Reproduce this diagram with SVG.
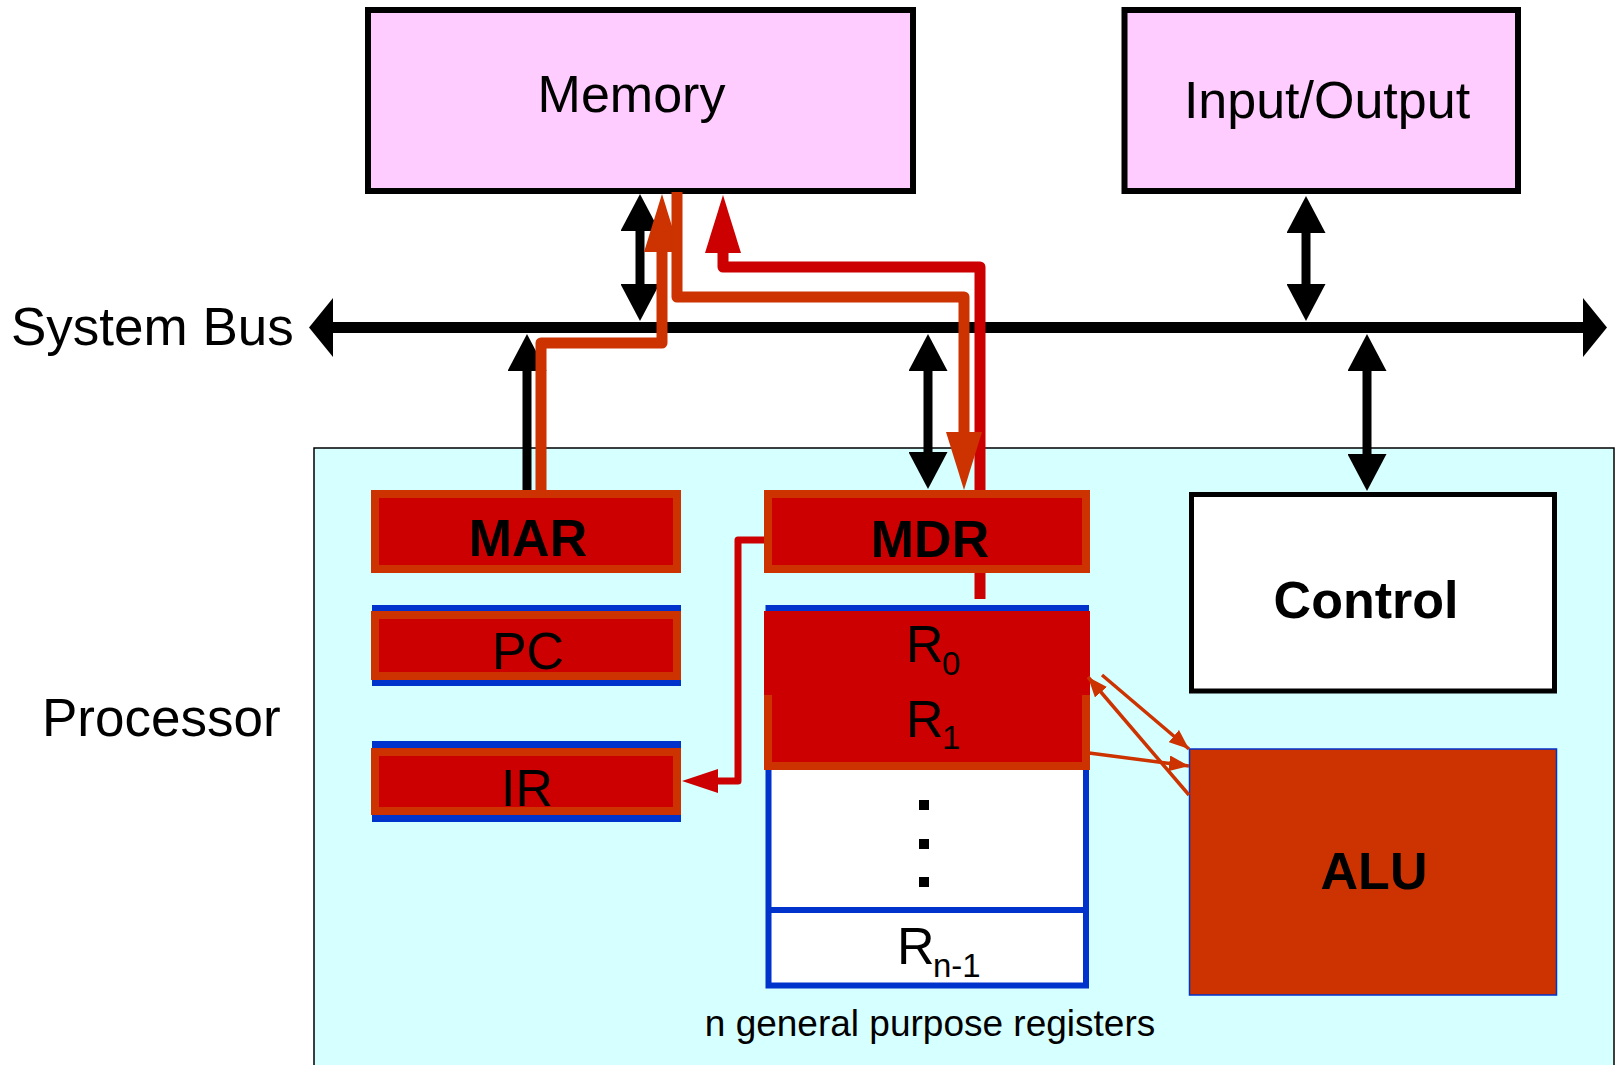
<svg xmlns="http://www.w3.org/2000/svg" width="1616" height="1065" viewBox="0 0 1616 1065">
<style>
text{font-family:"Liberation Sans",Arial,sans-serif;fill:#000}
.t{font-size:52px}
.l{font-size:53px}
.b{font-weight:bold}
.sub{font-size:33px}
.box{stroke:#000;stroke-width:6}
.reg{fill:#CC0000;stroke:#CC3300;stroke-width:8}
.blue{fill:#0033CC}
.blk{fill:none;stroke:#000;stroke-width:9}
.org{fill:none;stroke:#CC3300;stroke-width:11;stroke-linejoin:round}
.red{fill:none;stroke:#CC0000;stroke-width:11;stroke-linejoin:round}
.alu{fill:none;stroke:#CC3300;stroke-width:3.5}
</style>
<defs>
<marker id="bh" viewBox="0 0 37 39" refX="1" refY="19.5" markerWidth="37" markerHeight="39" markerUnits="userSpaceOnUse" orient="auto-start-reverse"><path d="M0,0 L37,19.5 L0,39 z" fill="#000"/></marker>
<marker id="bus" viewBox="0 0 24 59" refX="1" refY="29.5" markerWidth="24" markerHeight="59" markerUnits="userSpaceOnUse" orient="auto-start-reverse"><path d="M0,0 L24,29.5 L0,59 z" fill="#000"/></marker>
<marker id="oh" viewBox="0 0 58 36" refX="1" refY="18" markerWidth="58" markerHeight="36" markerUnits="userSpaceOnUse" orient="auto"><path d="M0,0 L58,18 L0,36 z" fill="#CC3300"/></marker>
<marker id="rh" viewBox="0 0 58 36" refX="1" refY="18" markerWidth="58" markerHeight="36" markerUnits="userSpaceOnUse" orient="auto"><path d="M0,0 L58,18 L0,36 z" fill="#CC0000"/></marker>
<marker id="rs" viewBox="0 0 36 24" refX="1" refY="12" markerWidth="36" markerHeight="24" markerUnits="userSpaceOnUse" orient="auto"><path d="M0,0 L36,12 L0,24 z" fill="#CC0000"/></marker>
<marker id="ah" viewBox="0 0 20 16" refX="20" refY="8" markerWidth="20" markerHeight="16" markerUnits="userSpaceOnUse" orient="auto"><path d="M0,0 L20,8 L0,16 z" fill="#CC3300"/></marker>
</defs>

<g id="processor">
<rect x="314" y="448" width="1300" height="640" fill="#D6FFFF" stroke="#000" stroke-width="1.5"/>
<text class="l" x="42" y="736">Processor</text>
</g>

<g id="memory">
<rect class="box" x="368" y="10" width="545" height="181" fill="#FFCCFF"/>
<text class="t" x="631.5" y="112" text-anchor="middle">Memory</text>
</g>

<g id="io">
<rect class="box" x="1124.5" y="10" width="393.5" height="181" fill="#FFCCFF"/>
<text class="t" x="1327" y="118" text-anchor="middle">Input/Output</text>
</g>

<g id="system-bus">
<text class="l" x="11" y="345">System Bus</text>
<line x1="332" y1="327.5" x2="1584" y2="327.5" stroke="#000" stroke-width="11" marker-start="url(#bus)" marker-end="url(#bus)"/>
</g>

<g id="control">
<rect x="1191.5" y="494.5" width="363" height="196.5" fill="#FFF" stroke="#000" stroke-width="5"/>
<text class="t b" x="1366" y="618" text-anchor="middle">Control</text>
</g>

<g id="alu">
<rect x="1189.5" y="749" width="367" height="246" fill="#CC3300" stroke="#0033CC" stroke-width="1.5"/>
<text class="t b" x="1374" y="889" text-anchor="middle">ALU</text>
</g>

<g id="regfile">
<rect x="768.5" y="608" width="317.5" height="377.5" fill="#FFF" stroke="#0033CC" stroke-width="6"/>
<line x1="768.5" y1="910" x2="1086" y2="910" stroke="#0033CC" stroke-width="6"/>
<rect x="919" y="800" width="10" height="10" fill="#000"/>
<rect x="919" y="839" width="10" height="10" fill="#000"/>
<rect x="919" y="877" width="10" height="10" fill="#000"/>
<text x="897" y="964" class="t">R</text><text x="933" y="977" class="sub">n-1</text>
<text class="t" x="930" y="1036" text-anchor="middle" style="font-size:37px">n general purpose registers</text>
</g>

<g id="connectors">
<line class="blk" x1="640" y1="230" x2="640" y2="285" marker-start="url(#bh)" marker-end="url(#bh)"/>
<line class="blk" x1="1306" y1="232" x2="1306" y2="285" marker-start="url(#bh)" marker-end="url(#bh)"/>
<line class="blk" x1="928" y1="370" x2="928" y2="453" marker-start="url(#bh)" marker-end="url(#bh)"/>
<line class="blk" x1="1367" y1="370" x2="1367" y2="455" marker-start="url(#bh)" marker-end="url(#bh)"/>
<line class="blk" x1="527" y1="490" x2="527" y2="370" marker-end="url(#bh)"/>
<path class="red" d="M980,599 V267 H723 V252" marker-end="url(#rh)"/>
<path class="org" d="M541,490 V343 H662 V251" marker-end="url(#oh)"/>
<path class="org" d="M677,192 V297 H964 V433" marker-end="url(#oh)"/>
</g>

<g id="pc">
<rect class="blue" x="372" y="605" width="309" height="81"/>
<rect class="reg" x="375" y="615" width="302" height="61"/>
<text class="t" x="528" y="669" text-anchor="middle">PC</text>
</g>

<g id="ir">
<rect class="blue" x="372" y="741" width="309" height="81"/>
<rect class="reg" x="375" y="752" width="302" height="59"/>
<text class="t" x="527" y="806" text-anchor="middle">IR</text>
</g>

<g id="mar">
<rect class="reg" x="375" y="494" width="302" height="75"/>
<text class="t b" x="528" y="556" text-anchor="middle">MAR</text>
</g>

<g id="mdr">
<rect class="reg" x="768" y="494" width="318" height="75"/>
<text class="t b" x="930" y="557" text-anchor="middle">MDR</text>
</g>

<g id="r1">
<rect x="764" y="694" width="326" height="76" fill="#CC0000"/>
<path d="M768,694 V766 H1086 V694" fill="none" stroke="#CC3300" stroke-width="8"/>
<text x="906" y="737" class="t">R</text><text x="942" y="749" class="sub">1</text>
</g>

<g id="r0">
<rect x="764" y="611" width="326" height="84" fill="#CC0000"/>
<text x="906" y="662" class="t">R</text><text x="942" y="675" class="sub">0</text>
</g>

<g id="alu-connectors">
<path d="M764,540 H738 V781 H717" fill="none" stroke="#CC0000" stroke-width="7" stroke-linejoin="round" marker-end="url(#rs)"/>
<line class="alu" x1="1102" y1="675" x2="1189" y2="749" marker-end="url(#ah)"/>
<line class="alu" x1="1089" y1="753" x2="1189" y2="766" marker-end="url(#ah)"/>
<line class="alu" x1="1189" y1="795" x2="1088" y2="677" marker-end="url(#ah)"/>
</g>
</svg>
